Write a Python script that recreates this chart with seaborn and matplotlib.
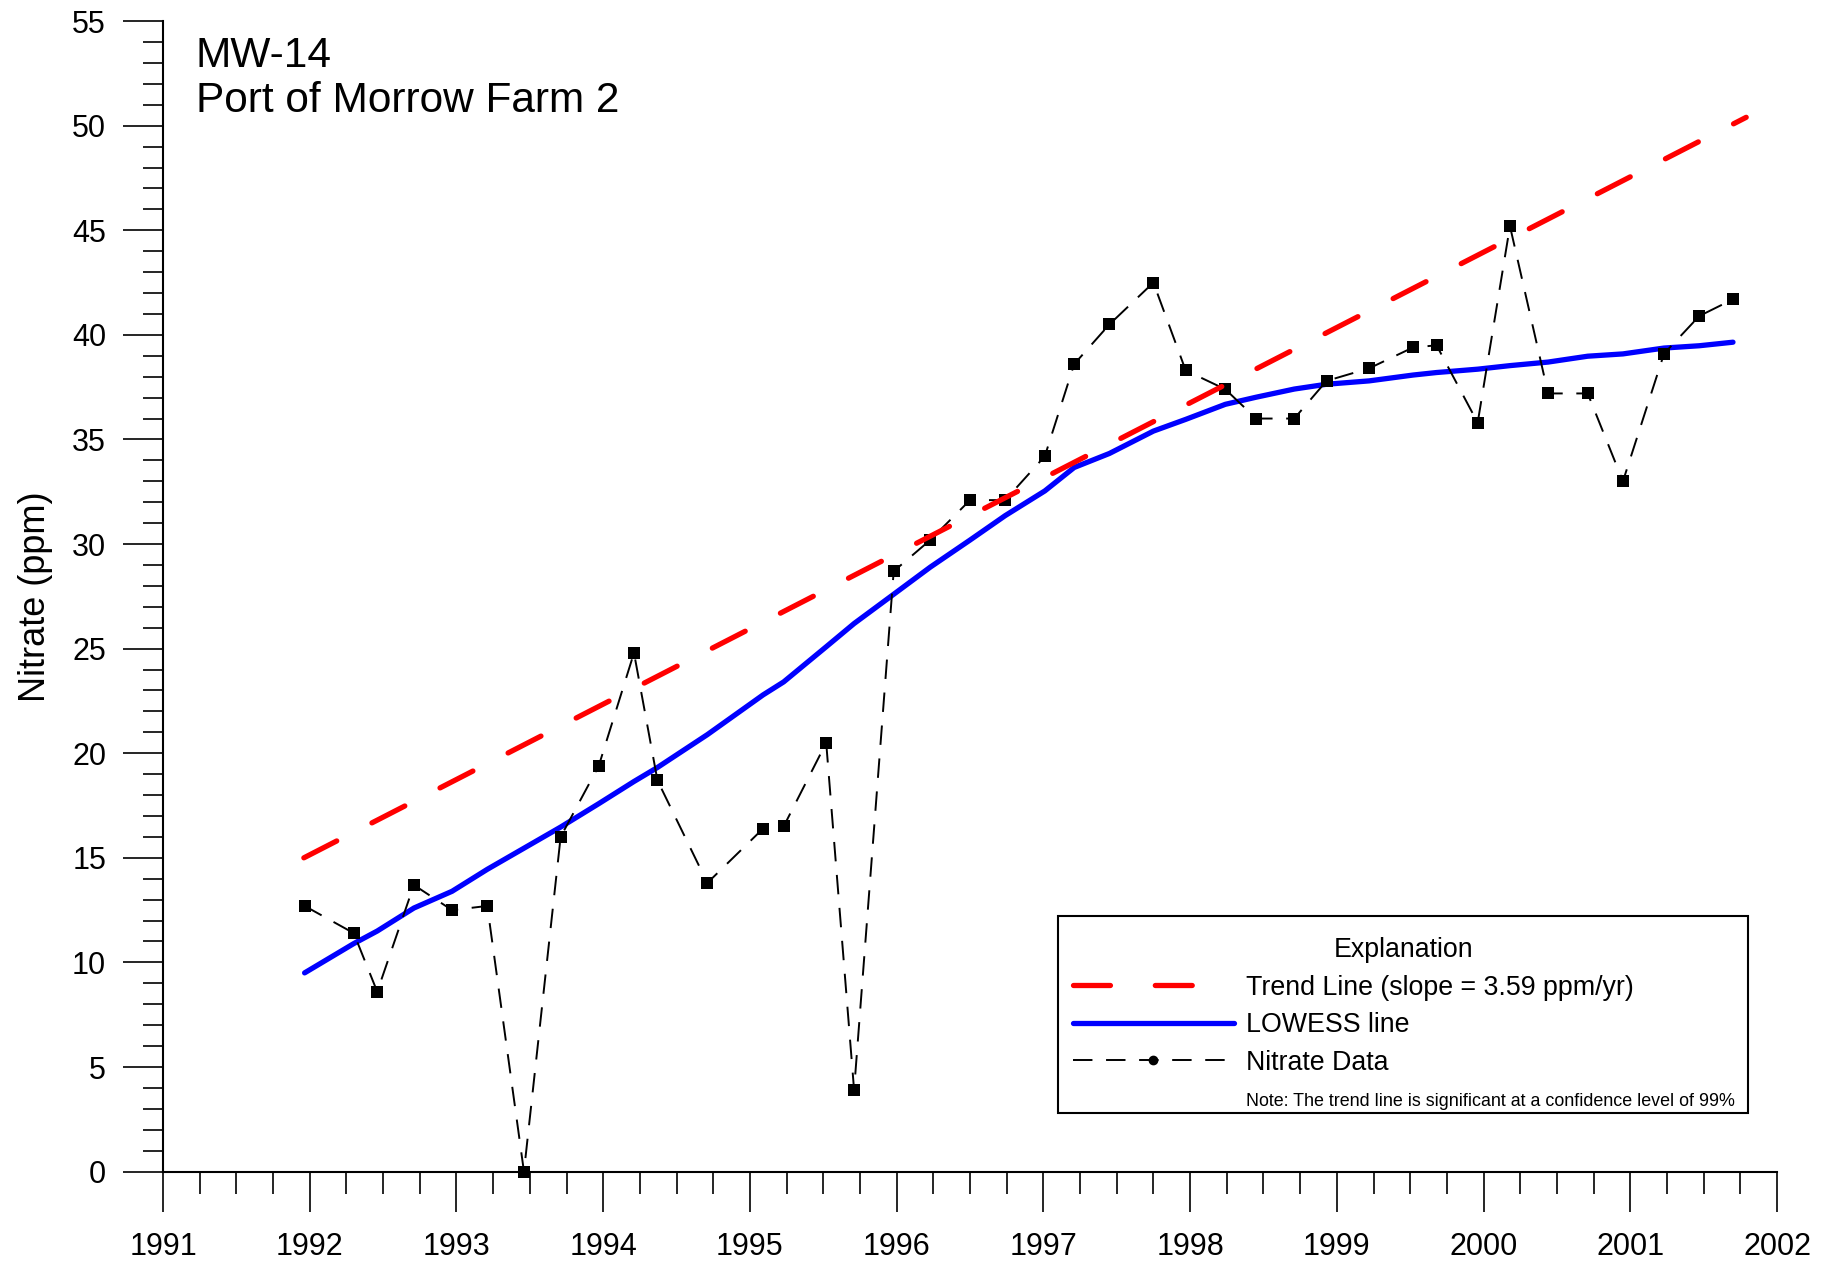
import matplotlib
matplotlib.use("Agg")
import matplotlib.pyplot as plt
import seaborn as sns
from matplotlib.lines import Line2D
from matplotlib.patches import Rectangle
from matplotlib.ticker import MultipleLocator

# sample dates (decimal years) and measured nitrate, ppm
sample_years = [1991.965, 1992.30, 1992.46, 1992.71, 1992.97, 1993.21, 1993.46, 1993.71,
                1993.97, 1994.21, 1994.37, 1994.71, 1995.09, 1995.23, 1995.52, 1995.71,
                1995.98, 1996.23, 1996.50, 1996.74, 1997.01, 1997.21, 1997.45, 1997.75,
                1997.97, 1998.24, 1998.45, 1998.71, 1998.93, 1999.22, 1999.52, 1999.68,
                1999.96, 2000.18, 2000.44, 2000.71, 2000.95, 2001.23, 2001.47, 2001.70]
nitrate = [12.7, 11.4, 8.6, 13.7, 12.5, 12.7, 0.0, 16.0,
           19.4, 24.8, 18.7, 13.8, 16.4, 16.5, 20.5, 3.9,
           28.7, 30.2, 32.1, 32.1, 34.2, 38.6, 40.5, 42.5,
           38.3, 37.4, 36.0, 36.0, 37.8, 38.4, 39.4, 39.5,
           35.8, 45.2, 37.2, 37.2, 33.0, 39.1, 40.9, 41.7]
lowess = [9.5, 10.9, 11.5, 12.6, 13.4, 14.45, 15.46, 16.47,
          17.59, 18.65, 19.32, 20.89, 22.79, 23.41, 25.09, 26.2,
          27.6, 28.9, 30.19, 31.36, 32.54, 33.66, 34.33, 35.4,
          35.96, 36.68, 37.02, 37.41, 37.64, 37.80, 38.08, 38.2,
          38.36, 38.53, 38.7, 38.98, 39.09, 39.37, 39.48, 39.65]

# trend line end points
trend_years = [1991.96, 2001.79]
trend_values = [15.0, 50.4]

year_ticks = list(range(1991, 2003))
year_labels = [str(y) for y in year_ticks]

legend_labels = ["Trend Line (slope = 3.59 ppm/yr)", "LOWESS line", "Nitrate Data",
                 "Note: The trend line is significant at a confidence level of 99%"]

sns.set_style("ticks")
plt.rcParams['font.family'] = ['Liberation Sans', 'DejaVu Sans']
plt.rcParams.update({"text.color": "black", "axes.labelcolor": "black",
                     "xtick.color": "black", "ytick.color": "black"})

fig = plt.figure(figsize=(18.37, 12.67), dpi=100)
ax = fig.add_axes([163 / 1837, 1 - 1171.6 / 1267, 1614 / 1837, 1150.5 / 1267])

trend_ls = (0, (7, 7.5))
data_ls = (0, (10, 7))

sns.lineplot(x=sample_years, y=lowess, ax=ax, color="#0000ff", linewidth=3.8,
             solid_capstyle="round", errorbar=None, zorder=2)
sns.lineplot(x=sample_years, y=nitrate, ax=ax, color="black", linewidth=1.4,
             linestyle=data_ls, marker="s", markersize=8, markeredgewidth=0,
             errorbar=None, clip_on=False, zorder=3)
sns.lineplot(x=trend_years, y=trend_values, ax=ax, color="#ff0000", linewidth=3.8,
             linestyle=trend_ls, dash_capstyle="round", errorbar=None, zorder=4)

ax.set_xlim(1991, 2002)
ax.set_ylim(0, 55)
ax.set_xticks(year_ticks)
ax.set_xticklabels(year_labels)
ax.xaxis.set_minor_locator(MultipleLocator(0.25))
ax.yaxis.set_major_locator(MultipleLocator(5))
ax.yaxis.set_minor_locator(MultipleLocator(1))

ax.tick_params(axis="x", which="major", direction="out", length=29, width=1.2,
               pad=14.5, labelsize=22)
ax.tick_params(axis="x", which="minor", direction="out", length=16, width=1.2)
ax.tick_params(axis="y", which="major", direction="out", length=29, width=1.2,
               pad=12, labelsize=22)
ax.tick_params(axis="y", which="minor", direction="out", length=14.5, width=1.2)

sns.despine(ax=ax)
for s in ["left", "bottom"]:
    ax.spines[s].set_color("black")
    ax.spines[s].set_linewidth(1.5)

ax.set_xlabel("")
ax.set_ylabel("Nitrate (ppm)", fontsize=26)
ax.yaxis.set_label_coords(-0.068, 0.5)

fig.text(0.1065, 1 - 66.8 / 1267, "MW-14", fontsize=30.5, va="baseline", ha="left")
fig.text(0.1065, 1 - 112.5 / 1267, "Port of Morrow Farm 2", fontsize=30.5,
         va="baseline", ha="left")

# legend frame drawn separately so the padding can match the original
ax.add_patch(Rectangle((0.5545, 0.0509), 0.4275, 0.1713, transform=ax.transAxes,
                       facecolor="white", edgecolor="black", linewidth=1.5, zorder=5))

handles = [
    Line2D([], [], color="#ff0000", linewidth=3.8, linestyle=(0, (7, 8.5)),
           dash_capstyle="round"),
    Line2D([], [], color="#0000ff", linewidth=3.8, solid_capstyle="round"),
    Line2D([], [], color="black", linewidth=1.4, linestyle=data_ls, marker="o", markersize=6),
    Line2D([], [], linestyle="none"),
]
leg = ax.legend(handles, legend_labels, title="Explanation", loc="upper left",
                bbox_to_anchor=(0.5638, 0.2039), borderaxespad=0, borderpad=0,
                frameon=False, fontsize=19.3, title_fontsize=19.3, handlelength=6,
                handletextpad=0.44, labelspacing=0.43)
leg.set_zorder(6)
leg.get_texts()[3].set_fontsize(12.9)

fig.savefig("out.png", dpi=100)
